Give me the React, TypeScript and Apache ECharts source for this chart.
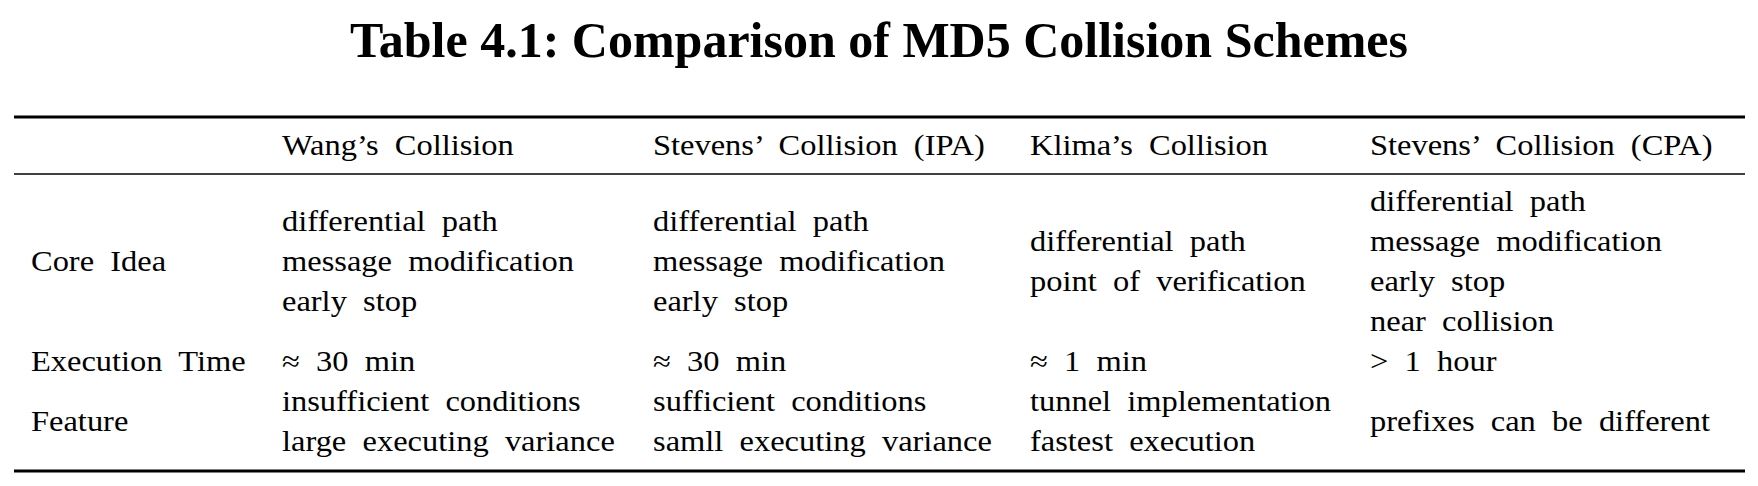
import { useEffect, useRef } from 'react'
import * as echarts from 'echarts'

const title = 'Table 4.1: Comparison of MD5 Collision Schemes'
const columns = ['Wang’s Collision', 'Stevens’ Collision (IPA)', 'Klima’s Collision', 'Stevens’ Collision (CPA)']
const rowLabels = ['Core Idea', 'Execution Time', 'Feature']
const coreIdea = [
  ['differential path', 'message modification', 'early stop'],
  ['differential path', 'message modification', 'early stop'],
  ['differential path', 'point of verification'],
  ['differential path', 'message modification', 'early stop', 'near collision'],
]
const executionTime = ['≈ 30 min', '≈ 30 min', '≈ 1 min', '> 1 hour']
const feature = [
  ['insufficient conditions', 'large executing variance'],
  ['sufficient conditions', 'samll executing variance'],
  ['tunnel implementation', 'fastest execution'],
  ['prefixes can be different'],
]

const colX = [282, 653, 1030, 1370]
const labelX = 31
const rowCenter = [262, 362, 422]
const lineGap = 40
const font = '"Liberation Serif", "Times New Roman", serif'

export default function App() {
  const ref = useRef<HTMLDivElement>(null)

  useEffect(() => {
    if (!ref.current) return
    const chart = echarts.init(ref.current, null, { renderer: 'svg' })

    // LaTeX-like wide word spacing
    const txt = (x: number, y: number, s: string, extra: any = {}) => ({
      type: 'text',
      x,
      y,
      scaleX: 1.12,
      style: {
        text: s.replace(/ /g, '  '),
        fontFamily: font,
        fontSize: 29,
        fill: '#000',
        textVerticalAlign: 'middle',
        ...extra,
      },
    })
    const hline = (y: number, w: number) => ({
      type: 'line',
      shape: { x1: 14, y1: y, x2: 1745, y2: y },
      style: { stroke: '#000', lineWidth: w },
    })

    const elements: any[] = [
      {
        type: 'text',
        x: 879,
        y: 40,
        style: {
          text: title,
          fontFamily: font,
          fontSize: 50,
          fontWeight: 'bold',
          fill: '#000',
          textAlign: 'center',
          textVerticalAlign: 'middle',
        },
      },
      hline(117, 3),
      hline(174, 1.5),
      hline(471, 3),
    ]
    columns.forEach((c, i) => elements.push(txt(colX[i], 146, c)))
    rowLabels.forEach((r, i) => elements.push(txt(labelX, rowCenter[i], r)))
    const block = (lines: string[], x: number, center: number) => {
      const start = center - ((lines.length - 1) * lineGap) / 2
      lines.forEach((l, j) => elements.push(txt(x, start + j * lineGap, l)))
    }
    coreIdea.forEach((lines, i) => block(lines, colX[i], rowCenter[0]))
    executionTime.forEach((t, i) => block([t], colX[i], rowCenter[1]))
    feature.forEach((lines, i) => block(lines, colX[i], rowCenter[2]))

    chart.setOption({ animation: false, graphic: { elements } })
    return () => chart.dispose()
  }, [])

  return <div ref={ref} style={{ width: 1758, height: 486, margin: -8 }} />
}
